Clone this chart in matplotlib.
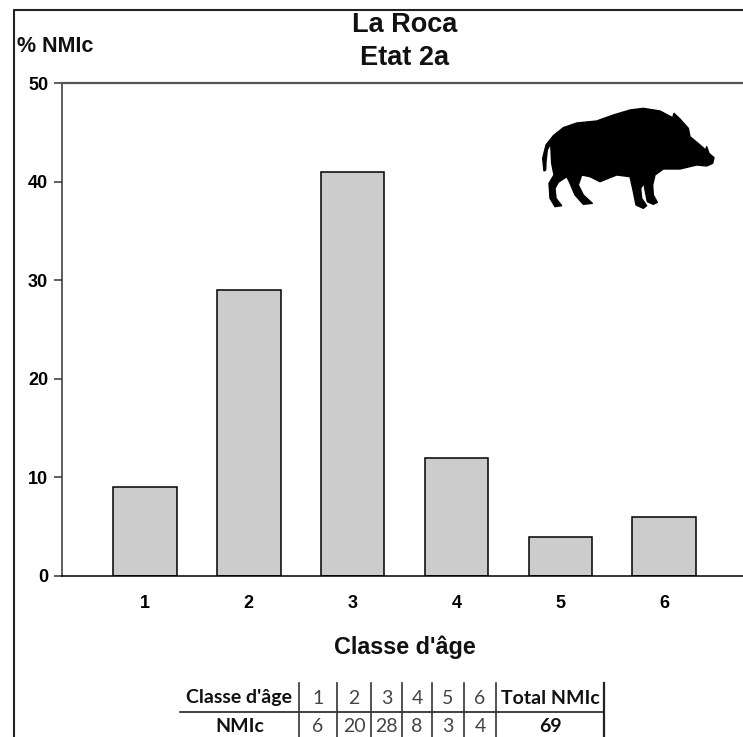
import matplotlib
matplotlib.use("Agg")
import matplotlib.pyplot as plt
from matplotlib.patches import Polygon
from matplotlib.lines import Line2D

W, H = 743, 737

age_classes = [1, 2, 3, 4, 5, 6]
percent_nmic = [9, 29, 41, 12, 4, 6]
y_ticks = [0, 10, 20, 30, 40, 50]
table_header = ["Classe d'âge", "1", "2", "3", "4", "5", "6", "Total NMIc"]
table_row = ["NMIc", "6", "20", "28", "8", "3", "4", "69"]

plt.rcParams["font.family"] = ["Liberation Sans", "DejaVu Sans"]
fig = plt.figure(figsize=(W / 100, H / 100), dpi=100, facecolor="white")

# overlay in pixel coordinates, for frame, silhouette and table
ov = fig.add_axes([0, 0, 1, 1], zorder=0)
ov.set_xlim(0, W)
ov.set_ylim(H, 0)
ov.axis("off")

ax = fig.add_axes([62 / W, 1 - 576 / H, (W - 62) / W, (576 - 83) / H], zorder=1)
ax.patch.set_alpha(0)
ax.bar(age_classes, percent_nmic, width=0.61, color="#cccccc", edgecolor="black", linewidth=1.1)
ax.set_xlim(0.2, 6.76)
ax.set_ylim(0, 50)
ax.set_yticks(y_ticks)
ax.set_xticks(age_classes)
ax.tick_params(axis="y", length=6, width=1.1, color="#333333", pad=4, labelsize=13)
ax.tick_params(axis="x", length=0, pad=14, labelsize=13)
for lab in ax.get_xticklabels() + ax.get_yticklabels():
    lab.set_fontweight("bold")
ax.spines["right"].set_visible(False)
ax.spines["left"].set_linewidth(1.1)
ax.spines["left"].set_color("#333333")
ax.spines["bottom"].set_linewidth(1.1)
ax.spines["top"].set_linewidth(1.6)
ax.spines["top"].set_color("#555555")

# outer frame
ov.add_line(Line2D([14, 14, W], [H, 10, 10], color="#222222", lw=1.5))

# titles
ov.text(404.5, 25, "La Roca", ha="center", va="center", fontsize=19.5, fontweight="bold", color="#111111")
ov.text(404.5, 58, "Etat 2a", ha="center", va="center", fontsize=19.5, fontweight="bold", color="#111111")
ov.text(17, 46, "% NMIc", ha="left", va="center", fontsize=15.5, fontweight="bold", color="#111111")
ov.text(404.5, 647, "Classe d'âge", ha="center", va="center", fontsize=16.8, fontweight="bold", color="#111111")

# boar silhouette (outline traced in a 3x crop at offset 530, 95)
boar = [(42,228),(38,190),(48,150),(70,122),(100,98),(140,84),(200,78),(250,60),(300,45),(340,40),
        (390,48),(428,68),(432,55),(450,72),(475,100),(480,125),(510,150),(527,165),(530,155),(537,175),
        (552,188),(548,205),(530,213),(500,210),(450,222),(400,222),(375,240),(368,270),(370,300),(382,322),
        (370,328),(352,320),(345,285),(342,265),(332,280),(335,310),(350,332),(340,340),(318,330),(310,290),
        (300,245),(260,240),(210,260),(180,245),(155,240),(145,270),(160,300),(187,325),(160,328),(135,300),
        (118,260),(110,245),(85,262),(75,280),(78,310),(95,332),(75,335),(60,310),(57,265),(72,240),
        (65,205),(62,145),(52,165),(48,200),(47,225)]
ov.add_patch(Polygon([(530 + x / 3, 95 + y / 3) for x, y in boar], closed=True, fc="black", ec="black", lw=1.0, joinstyle="round"))

# small table
col_x = [180, 299, 337, 371, 402, 432, 464, 496, 604]
top, mid, bottom = 683, 712, 737
ov.add_line(Line2D([180, 604], [mid, mid], color="#222222", lw=1.2))
for x in col_x[1:-1]:
    ov.add_line(Line2D([x, x], [top, bottom], color="#333333", lw=1.2))
ov.add_line(Line2D([604, 604], [top, bottom], color="#222222", lw=1.6))
for i in range(len(table_header)):
    cx = (col_x[i] + col_x[i + 1]) / 2
    bold = i in (0, 7)
    ov.text(cx, 698, table_header[i], ha="center", va="center", family="Lato", fontsize=14,
            fontweight="bold" if bold else "normal", color="#111111" if bold else "#444444")
    ov.text(cx, 726, table_row[i], ha="center", va="center", family="Lato", fontsize=14,
            fontweight="bold" if bold else "normal", color="#111111" if bold else "#444444")

fig.savefig("out.png", dpi=100, facecolor="white")
